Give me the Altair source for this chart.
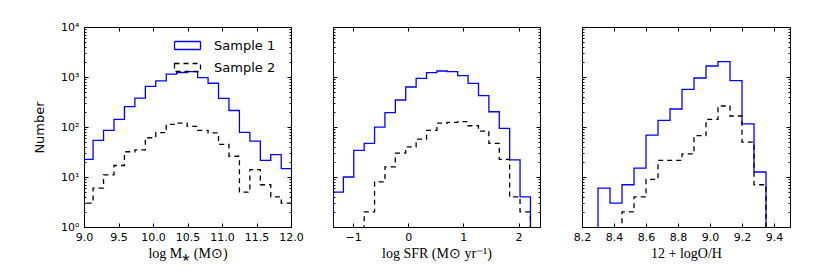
import altair as alt
import pandas as pd

# ---------------- data ----------------
series_names = ["Sample 1", "Sample 2"]

# Panel 1: log M*  (20 bins starting at 8.98, width 0.1515)
mass_start, mass_width = 8.98, 0.1515
mass_s1 = [22.6, 54, 86, 142, 255, 378, 650, 840, 1140, 1230, 1280, 975, 750, 375, 214, 78, 52, 21.5, 28, 14.7]
mass_s2 = [3, 6, 11, 17, 32, 35, 61, 77, 113, 120, 103, 86, 76, 45, 26, 5, 14, 7, 4, 3]

# Panel 2: log SFR (19 bins starting at -1.365, width 0.1885)
sfr_start, sfr_width = -1.365, 0.1885
sfr_s1 = [5, 10, 34, 47, 99, 193, 347, 631, 942, 1219, 1318, 1276, 1062, 748, 423, 202, 94, 22, 4]
sfr_s2 = [0, 0, 0, 2, 8, 16, 30, 40, 57, 86, 119, 124, 128, 106, 83, 47, 22.6, 4, 2]

# Panel 3: 12+logO/H (14 bins starting at 8.3, width 0.075)
oh_start, oh_width = 8.3, 0.075
oh_s1 = [6, 3, 7, 15, 69, 136, 229, 567, 955, 1660, 2026, 845, 115, 12.6]
oh_s2 = [0, 0, 2, 4, 9, 21.5, 21.5, 29, 67, 142, 263, 166, 50, 7]

mass_ticks = [9.0, 9.5, 10.0, 10.5, 11.0, 11.5, 12.0]
sfr_ticks = [-1, 0, 1, 2]
oh_ticks = [8.2, 8.4, 8.6, 8.8, 9.0, 9.2, 9.4]

y_major = [1, 10, 100, 1000, 10000]
y_minor = [m * 10 ** k for k in range(4) for m in range(2, 10)]

FLOOR = 0.3  # empty bins drop below the log axis


def step_rows(start, width, counts, name):
    edges = [start + width * i for i in range(len(counts) + 1)]
    pts = [(edges[0], FLOOR)]
    for i, c in enumerate(counts):
        v = c if c > 0 else FLOOR
        pts.append((edges[i], v))
        pts.append((edges[i + 1], v))
    pts.append((edges[-1], FLOOR))
    return [{"x": x, "y": y, "series": name, "order": k} for k, (x, y) in enumerate(pts)]


def panel_df(start, width, s1, s2):
    return pd.DataFrame(step_rows(start, width, s1, series_names[0]) +
                        step_rows(start, width, s2, series_names[1]))


MAJOR_TEST = "indexof([1,10,100,1000,10000], datum.value) >= 0"
tick_dash = {"condition": {"test": MAJOR_TEST, "value": [6, 0]}, "value": [0, 2, 2, 0]}
ylabel_expr = ("indexof([1,10,100,1000,10000], datum.value) >= 0 ? "
               "'10' + ['⁰','¹','²','³','⁴'][round(log(datum.value)/LN10)] : ''")

SANS = "DejaVu Sans"
SERIF = "Liberation Serif"


def make_panel(df, xdomain, xticks, xtitle, xlabel_expr, width, show_y, legend):
    xscale = alt.Scale(domain=xdomain, nice=False, zero=False)
    yscale = alt.Scale(type="log", domain=[1, 10000], nice=False)
    color_scale = alt.Scale(domain=series_names, range=["#0000ff", "#000000"])
    dash_scale = alt.Scale(domain=series_names, range=[[1, 0], [5, 4]])

    if legend:
        leg = alt.Legend(title=None, orient="none", legendX=88, legendY=12,
                         symbolType="M-1,-1H5.5V1H-1Z", symbolSize=64,
                         labelOffset=29, labelFontSize=13, labelFont=SANS,
                         labelColor="black", rowPadding=7,
                         symbolStrokeWidth=1.3, padding=0,
                         symbolFillColor="transparent")
    else:
        leg = None

    bottom_axis = alt.Axis(orient="bottom", values=xticks, tickSize=4, offset=-4,
                           domain=False, grid=False, labelExpr=xlabel_expr,
                           labelFlush=False, labelOverlap=False, labelPadding=4,
                           labelFont=SANS, labelFontSize=11, labelColor="black",
                           tickColor="black", title=xtitle, titleFont=SERIF,
                           titleFontSize=14, titleFontWeight="normal",
                           titleColor="black", titlePadding=4)
    top_axis = alt.Axis(orient="top", values=xticks, tickSize=4, offset=-4,
                        domain=False, grid=False, labels=False, title=None,
                        tickColor="black")
    left_axis = alt.Axis(orient="left", values=y_major + y_minor, tickSize=4, offset=-4,
                         domain=False, grid=False, labels=show_y,
                         labelExpr=ylabel_expr, labelOverlap=False,
                         labelPadding=5, labelFont=SANS, labelFontSize=11,
                         labelColor="black", tickColor="black", tickDash=tick_dash,
                         title="Number" if show_y else None, titleFont=SANS,
                         titleFontSize=13, titleFontWeight="normal",
                         titleColor="black", titlePadding=14)
    right_axis = alt.Axis(orient="right", values=y_major + y_minor, tickSize=4, offset=-4,
                          domain=False, grid=False, labels=False, title=None,
                          tickColor="black", tickDash=tick_dash)

    base = alt.Chart(df)
    lines = base.mark_line(clip=True, strokeWidth=1.3).encode(
        x=alt.X("x:Q", scale=xscale, axis=bottom_axis),
        y=alt.Y("y:Q", scale=yscale, axis=left_axis),
        color=alt.Color("series:N", scale=color_scale, legend=leg),
        strokeDash=alt.StrokeDash("series:N", scale=dash_scale, legend=leg),
        order="order:Q",
    )
    ghost = base.mark_point(clip=True, opacity=0).encode(
        x=alt.X("x:Q", scale=xscale, axis=top_axis),
        y=alt.Y("y:Q", scale=yscale, axis=right_axis),
    )
    return alt.layer(lines, ghost).resolve_axis(x="independent", y="independent").properties(
        width=width, height=200)


p1 = make_panel(panel_df(mass_start, mass_width, mass_s1, mass_s2), [9.0, 12.0], mass_ticks,
                "log M⁎ (M⊙)", "format(datum.value, '.1f')", 207, True, True)
p2 = make_panel(panel_df(sfr_start, sfr_width, sfr_s1, sfr_s2), [-1.365, 2.39], sfr_ticks,
                "log SFR (M⊙ yr⁻¹)", "replace(format(datum.value, 'd'), '-', '−')", 207, False, False)
p3 = make_panel(panel_df(oh_start, oh_width, oh_s1, oh_s2), [8.2, 9.5], oh_ticks,
                "12 + logO/H", "format(datum.value, '.1f')", 208, False, False)

chart = alt.hconcat(p1, p2, p3, spacing=42, bounds="flush").resolve_scale(
    x="independent", color="independent", strokeDash="independent"
).configure_view(stroke="black", strokeWidth=1).properties(
    padding={"left": 25, "top": 12, "right": 5, "bottom": 5}, background="white")

chart.save("out.html", embed_options={"renderer": "svg", "actions": False})
